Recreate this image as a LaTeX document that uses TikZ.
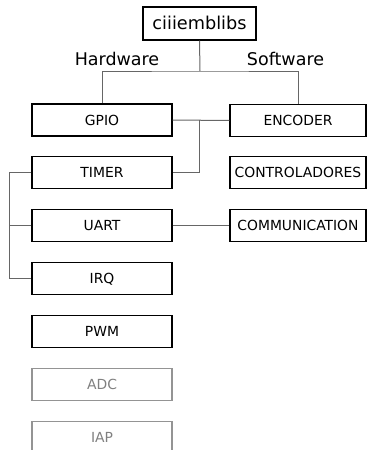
\documentclass[tikz,border=0pt]{standalone}
\usepackage{fontspec}
\setmainfont{DejaVu Sans}
\begin{document}
\begin{tikzpicture}[x=1pt,y=-1pt,
  box/.style={draw=black, line width=1.4pt, minimum width=140pt, minimum height=32pt, inner sep=0pt,
    font=\fontsize{13.9}{16}\selectfont, text height=10.1pt, text depth=0pt},
  rbox/.style={box, minimum width=136pt},
  graybox/.style={box, draw=black!42, text=black!50},
  conn/.style={draw=black!60, line width=1pt},
  lab/.style={font=\fontsize{17.5}{20}\selectfont, anchor=base, inner sep=0pt}]
\useasboundingbox (0,0) rectangle (367,450);
\node[box, minimum width=113pt, minimum height=33pt, font=\fontsize{17.7}{20}\selectfont, text height=12.8pt] (top) at (199.5,23.5) {ciiiemblibs};
\node[lab] (hw) at (117,65.3) {Hardware};
\node[lab] (sw) at (285.5,65.3) {Software};
\node[box] (gpio) at (102,120) {GPIO};
\node[box] (timer) at (102,172.5) {TIMER};
\node[box] (uart) at (102,225.5) {UART};
\node[box] (irq) at (102,278.5) {IRQ};
\node[box] (pwm) at (102,331.5) {PWM};
\node[graybox] (adc) at (102,384.5) {ADC};
\node[graybox] (iap) at (102,437.5) {IAP};
\node[rbox] (enc) at (298,120.5) {ENCODER};
\node[rbox] (ctrl) at (298,172.5) {CONTROLADORES};
\node[rbox] (comm) at (298,225.5) {\resizebox{121pt}{\height}{COMMUNICATION}};
\coordinate (j) at (200,71);
\draw[conn] (top.south) -- (j);
\draw[conn] (gpio.north) |- (j) -| (enc.north);
\draw[conn] (gpio.east) -- (enc.west);
\draw[conn] (gpio.east -| top.south) |- (timer.east);
\draw[conn] (uart.east) -- (comm.west);
\draw[conn] (timer.west) -- ++(-22,0) |- (irq.west);
\draw[conn] (uart.west) -- ++(-22,0);
\end{tikzpicture}
\end{document}
